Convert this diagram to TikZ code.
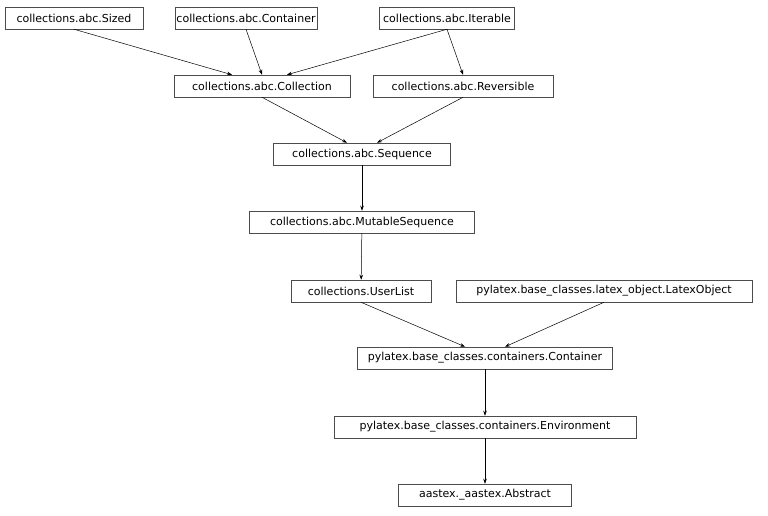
\documentclass[tikz,border=0pt]{standalone}
\usepackage{fontspec}
\setmainfont{DejaVu Sans}
\usetikzlibrary{arrows.meta}
\begin{document}
\begin{tikzpicture}[x=1pt,y=-1pt,
  cls/.style={draw=black!70,line width=0.5pt,fill=white,minimum height=22pt,inner sep=0pt,font=\fontsize{11}{12}\selectfont},
  edge/.style={draw=black,line width=0.5pt,-{Stealth[length=5pt,width=3.5pt]}}]
\useasboundingbox (0,0) rectangle (768,516);
\node[cls,minimum width=138pt] (sized) at (74,18) {collections.abc.Sized};
\node[cls,minimum width=142pt] (cont) at (246,18) {collections.abc.Container};
\node[cls,minimum width=135pt] (iter) at (447,18) {collections.abc.Iterable};
\node[cls,minimum width=176pt] (coll) at (262,86) {collections.abc.Collection};
\node[cls,minimum width=180pt] (rev) at (463,86) {collections.abc.Reversible};
\node[cls,minimum width=177pt] (seq) at (362,154) {collections.abc.Sequence};
\node[cls,minimum width=225pt] (mseq) at (362,222) {collections.abc.MutableSequence};
\node[cls,minimum width=140pt] (ul) at (361,291) {collections.UserList};
\node[cls,minimum width=296pt] (lo) at (604,291) {pylatex.base\_classes.latex\_object.LatexObject};
\node[cls,minimum width=255pt] (pc) at (485,358) {pylatex.base\_classes.containers.Container};
\node[cls,minimum width=302pt] (env) at (485,427) {pylatex.base\_classes.containers.Environment};
\node[cls,minimum width=173pt] (abs) at (485,495) {aastex.\_aastex.Abstract};
\draw[edge] (sized.south) -- ([xshift=-30pt]coll.north);
\draw[edge] (cont.south) -- ([xshift=0pt]coll.north);
\draw[edge] (iter.south) -- ([xshift=25pt]coll.north);
\draw[edge] (iter.south) -- (rev.north);
\draw[edge] (coll.south) -- ([xshift=-15pt]seq.north);
\draw[edge] (rev.south) -- ([xshift=15pt]seq.north);
\draw[edge] (seq) -- (mseq);
\draw[edge] (mseq) -- (ul);
\draw[edge] (ul.south) -- ([xshift=-20pt]pc.north);
\draw[edge] (lo.south) -- ([xshift=20pt]pc.north);
\draw[edge] (pc) -- (env);
\draw[edge] (env) -- (abs);
\end{tikzpicture}
\end{document}
